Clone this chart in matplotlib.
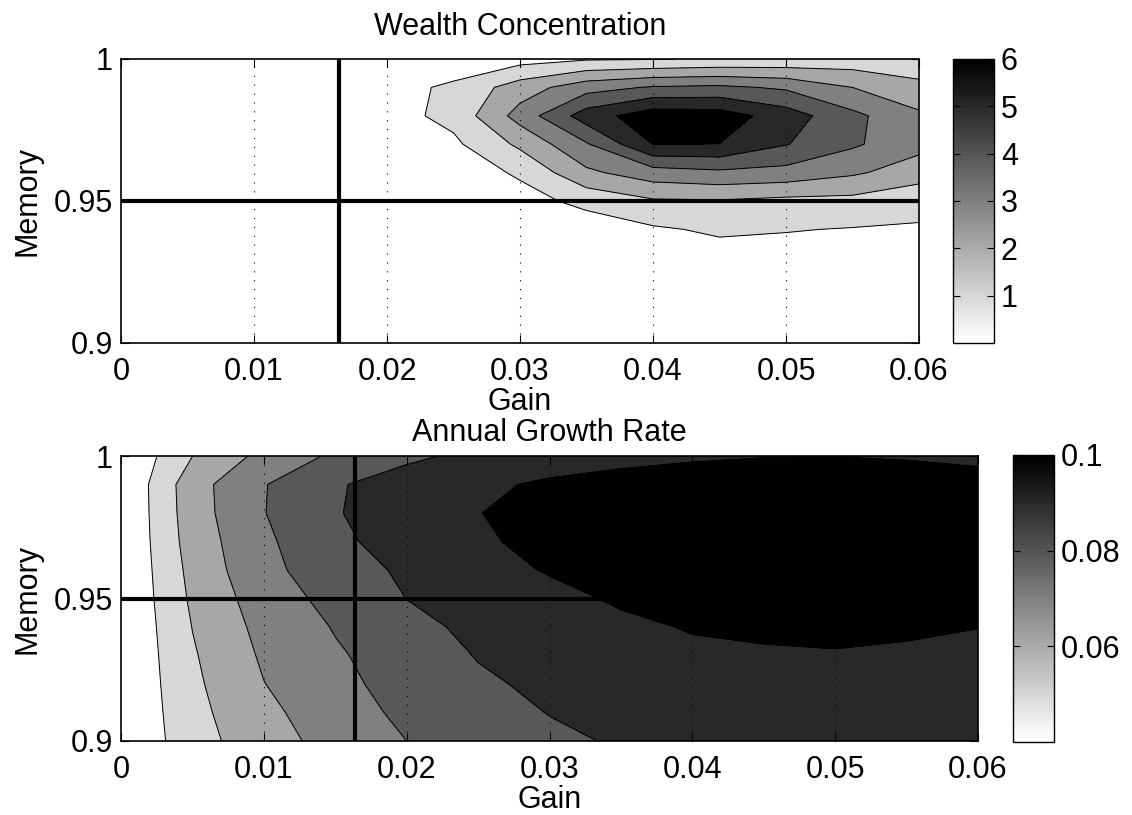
import numpy as np
import matplotlib
matplotlib.use("Agg")
import matplotlib.pyplot as plt
from matplotlib.colors import Normalize
from matplotlib.cm import ScalarMappable

# ---------------- data ----------------
gain = [0.000, 0.005, 0.010, 0.015, 0.020, 0.025, 0.030,
        0.035, 0.040, 0.045, 0.050, 0.055, 0.060]
memory = [0.90, 0.91, 0.92, 0.93, 0.94, 0.95, 0.96, 0.97, 0.98, 0.99, 1.00]

# Wealth concentration, rows = memory (0.90 -> 1.00), cols = gain
wealth = [
    [0.01, 0.01, 0.01, 0.02, 0.02, 0.03, 0.05, 0.08, 0.10, 0.12, 0.13, 0.13, 0.12],
    [0.01, 0.01, 0.02, 0.02, 0.03, 0.04, 0.07, 0.12, 0.16, 0.20, 0.22, 0.22, 0.20],
    [0.01, 0.02, 0.02, 0.03, 0.04, 0.06, 0.12, 0.18, 0.26, 0.33, 0.36, 0.35, 0.32],
    [0.02, 0.02, 0.03, 0.04, 0.05, 0.08, 0.20, 0.30, 0.45, 0.60, 0.60, 0.55, 0.50],
    [0.02, 0.03, 0.04, 0.05, 0.07, 0.10, 0.30, 0.40, 0.87, 1.15, 1.05, 0.95, 0.92],
    [0.03, 0.04, 0.05, 0.08, 0.10, 0.20, 0.60, 1.30, 1.88, 1.925, 1.74, 1.71, 1.25],
    [0.04, 0.05, 0.08, 0.12, 0.20, 0.40, 1.15, 2.80, 3.55, 3.80, 3.65, 3.15, 2.50],
    [0.05, 0.07, 0.12, 0.25, 0.40, 0.80, 2.20, 3.90, 6.02, 5.99, 5.05, 4.15, 3.30],
    [0.05, 0.08, 0.15, 0.30, 0.60, 1.30, 3.40, 5.50, 6.60, 6.50, 5.50, 4.25, 3.20],
    [0.05, 0.08, 0.15, 0.30, 0.60, 1.20, 2.50, 3.60, 4.10, 4.20, 3.85, 3.00, 2.20],
    [0.05, 0.05, 0.05, 0.08, 0.10, 0.30, 0.60, 0.90, 0.95, 1.10, 1.20, 1.40, 1.50],
]

# Annual growth rate, rows = memory (0.90 -> 1.00), cols = gain
growth = [
    [0.040, 0.0560, 0.0658, 0.0736, 0.0800, 0.0845, 0.0880, 0.0910, 0.0925, 0.0933, 0.0935, 0.0933, 0.0928],
    [0.040, 0.0570, 0.0677, 0.0753, 0.0822, 0.0860, 0.0903, 0.0925, 0.0942, 0.0950, 0.0952, 0.0950, 0.0945],
    [0.040, 0.0580, 0.0698, 0.0772, 0.0840, 0.0885, 0.0920, 0.0945, 0.0962, 0.0970, 0.0972, 0.0970, 0.0965],
    [0.040, 0.0590, 0.0714, 0.0789, 0.0845, 0.0905, 0.0940, 0.0962, 0.0986, 0.0992, 0.09955, 0.0990, 0.0985],
    [0.040, 0.0602, 0.0731, 0.0806, 0.0875, 0.0920, 0.0955, 0.0985, 0.1005, 0.1012, 0.1015, 0.1010, 0.1001],
    [0.040, 0.0617, 0.0751, 0.0830, 0.0901, 0.0945, 0.0978, 0.1010, 0.1022, 0.1026, 0.1026, 0.1024, 0.1018],
    [0.040, 0.0630, 0.0776, 0.0850, 0.0918, 0.0972, 0.1006, 0.1020, 0.1028, 0.1031, 0.1031, 0.1029, 0.1024],
    [0.040, 0.0645, 0.0782, 0.0878, 0.0945, 0.0995, 0.1010, 0.1025, 0.1032, 0.1035, 0.1035, 0.1033, 0.1028],
    [0.040, 0.0655, 0.0797, 0.0893, 0.0955, 0.0999, 0.1015, 0.1028, 0.1034, 0.1036, 0.1036, 0.1034, 0.1030],
    [0.040, 0.0660, 0.0795, 0.0890, 0.0946, 0.0985, 0.1012, 0.1025, 0.1030, 0.1032, 0.1032, 0.1030, 0.1025],
    [0.040, 0.0599, 0.0729, 0.0817, 0.0880, 0.0925, 0.0960, 0.0980, 0.0992, 0.0998, 0.0999, 0.0995, 0.0985],
]

wealth_levels = [1, 2, 3, 4, 5, 6]
growth_levels = [0.05, 0.06, 0.07, 0.08, 0.09, 0.10]
wealth_range = [0, 6]
growth_range = [0.04, 0.10]

cross_gain = 0.0164
cross_memory = 0.95

xticks = [0, 0.01, 0.02, 0.03, 0.04, 0.05, 0.06]
xticklabels = ["0", "0.01", "0.02", "0.03", "0.04", "0.05", "0.06"]
yticks = [0.9, 0.95, 1.0]
yticklabels = ["0.9", "0.95", "1"]
wealth_cb_ticks = [1, 2, 3, 4, 5, 6]
wealth_cb_labels = ["1", "2", "3", "4", "5", "6"]
growth_cb_ticks = [0.06, 0.08, 0.10]
growth_cb_labels = ["0.06", "0.08", "0.1"]

band_colors = ["#ffffff", "#d7d7d7", "#a7a7a7", "#808080", "#585858", "#282828", "#000000"]

# ---------------- style ----------------
plt.rcParams["font.family"] = ["Liberation Sans", "DejaVu Sans"]
FS = 22

W, H = 1132, 815
fig = plt.figure(figsize=(W / 100, H / 100), dpi=100)


def px_axes(x0, y0, x1, y1):
    return fig.add_axes([x0 / W, 1 - y1 / H, (x1 - x0) / W, (y1 - y0) / H])


cmap = plt.get_cmap("gray_r", 64)


def panel(ax, cax, Z, levels, vrange, title, title_pad, cb_ticks, cb_labels):
    Z = np.array(Z)
    fill_levels = [min(Z.min(), levels[0]) - 1] + list(levels) + [max(Z.max(), levels[-1]) + 1]
    ax.contourf(gain, memory, Z, levels=fill_levels, colors=band_colors)
    ax.contour(gain, memory, Z, levels=levels, colors="k", linewidths=0.7)
    ax.axvline(cross_gain, color="k", lw=3.0, zorder=5)
    ax.axhline(cross_memory, color="k", lw=3.0, zorder=5)
    for xv in xticks[1:-1]:
        ax.axvline(xv, color="k", lw=0.8, ls=(0, (1, 7)), zorder=4)
    ax.set_xlim(0, 0.06)
    ax.set_ylim(0.9, 1.0)
    ax.set_xticks(xticks)
    ax.set_xticklabels(xticklabels, fontsize=FS)
    ax.set_yticks(yticks)
    ax.set_yticklabels(yticklabels, fontsize=FS)
    ax.tick_params(direction="in", length=6, width=0.8, top=True, right=True)
    ax.tick_params(axis="x", pad=10)
    ax.tick_params(axis="y", pad=6)
    for s in ax.spines.values():
        s.set_linewidth(1.2)
        s.set_zorder(6)
    ax.set_xlabel("Gain", fontsize=FS, labelpad=0)
    ax.set_ylabel("Memory", fontsize=FS, labelpad=8)
    ax.set_title(title, fontsize=FS, pad=title_pad)

    sm = ScalarMappable(norm=Normalize(vrange[0], vrange[1]), cmap=cmap)
    cb = fig.colorbar(sm, cax=cax)
    cb.set_ticks(cb_ticks)
    cb.set_ticklabels(cb_labels)
    cax.tick_params(direction="in", length=5, width=0.8, left=True, right=True,
                    labelsize=FS, pad=5)
    cb.outline.set_linewidth(1.0)


ax1 = px_axes(121, 59, 919, 343)
cax1 = px_axes(953, 59, 994, 343)
panel(ax1, cax1, wealth, wealth_levels, wealth_range, "Wealth Concentration", 17,
      wealth_cb_ticks, wealth_cb_labels)

ax2 = px_axes(121, 456, 978, 741)
cax2 = px_axes(1013, 455, 1054, 742)
panel(ax2, cax2, growth, growth_levels, growth_range, "Annual Growth Rate", 11,
      growth_cb_ticks, growth_cb_labels)

fig.savefig("out.png", dpi=100, facecolor="white")
